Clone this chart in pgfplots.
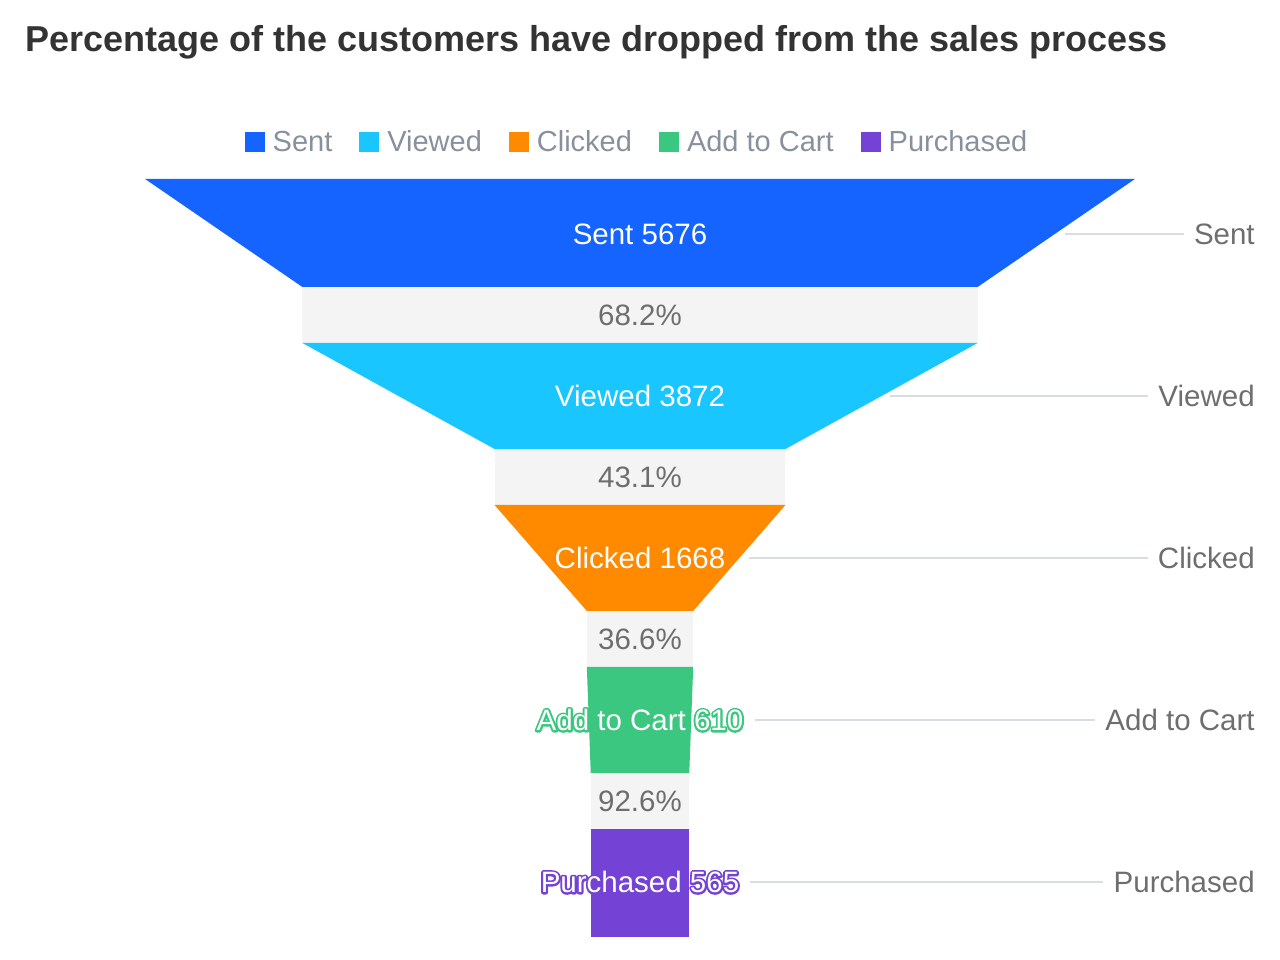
\documentclass[border=0pt]{standalone}
\usepackage{fontspec}
\setmainfont{Liberation Sans}
\usepackage{pgfplots}
\pgfplotsset{compat=1.18}

\definecolor{sentc}{HTML}{1664FF}
\definecolor{viewc}{HTML}{1AC6FF}
\definecolor{clickc}{HTML}{FF8A00}
\definecolor{cartc}{HTML}{3CC780}
\definecolor{buyc}{HTML}{7442D4}
\definecolor{bandgray}{HTML}{F4F4F4}
\definecolor{titlec}{HTML}{333333}
\definecolor{legc}{HTML}{89909D}
\definecolor{labc}{HTML}{6E6E6E}
\definecolor{linec}{HTML}{D9DCE3}

\newcommand{\lbl}{\fontsize{29.5}{34}\selectfont}
% white text with a coloured outline: stroked copy underneath, filled copy on top
\newcommand{\outlined}[3]{%
  \node[text=#2, font=\lbl, inner sep=0pt] at (#1)
    {\special{pdf:literal direct 1 Tr 4 w 1 j}#3\special{pdf:literal direct 0 Tr 1 w}};
  \node[text=white, font=\lbl, inner sep=0pt] at (#1) {#3};}

\begin{document}
\begin{tikzpicture}
\begin{axis}[
  width=1280pt, height=960pt, scale only axis,
  xmin=-3670, xmax=3670, ymin=0, ymax=960, y dir=reverse,
  hide axis, clip=false,
  legend columns=5,
  legend style={at={(axis cs:0,142)}, anchor=center, draw=none, fill=none,
    font=\fontsize{29}{34}\selectfont, text=legc,
    nodes={inner xsep=8pt, inner ysep=0pt},
    /tikz/every even column/.append style={column sep=19pt}},
  legend image code/.code={\fill[#1] (0pt,-10pt) rectangle (20pt,10pt);},
]
\addplot[draw=none, forget plot] coordinates {(-3670,0) (3670,960)};

% conversion bands
\addplot[fill=bandgray, draw=none, forget plot] coordinates {(-1936,287) (1936,287) (1936,343) (-1936,343)} -- cycle;
\addplot[fill=bandgray, draw=none, forget plot] coordinates {(-834,449) (834,449) (834,505) (-834,505)} -- cycle;
\addplot[fill=bandgray, draw=none, forget plot] coordinates {(-305,611) (305,611) (305,667) (-305,667)} -- cycle;
\addplot[fill=bandgray, draw=none, forget plot] coordinates {(-282.5,773) (282.5,773) (282.5,829) (-282.5,829)} -- cycle;

% stages: half of each value on either side
\addplot[fill=sentc, draw=none] coordinates {(-2838,179) (2838,179) (1936,287) (-1936,287)} -- cycle;
\addlegendentry{Sent}
\addplot[fill=viewc, draw=none] coordinates {(-1936,343) (1936,343) (834,449) (-834,449)} -- cycle;
\addlegendentry{Viewed}
\addplot[fill=clickc, draw=none] coordinates {(-834,505) (834,505) (305,611) (-305,611)} -- cycle;
\addlegendentry{Clicked}
\addplot[fill=cartc, draw=none] coordinates {(-305,667) (305,667) (282.5,773) (-282.5,773)} -- cycle;
\addlegendentry{Add to Cart}
\addplot[fill=buyc, draw=none] coordinates {(-282.5,829) (282.5,829) (282.5,937) (-282.5,937)} -- cycle;
\addlegendentry{Purchased}

\node[anchor=base west, text=titlec, font=\fontsize{36}{40}\selectfont\bfseries, inner sep=0pt]
  at (axis cs:-3526,52) {Percentage of the customers have dropped from the sales process};

% conversion rates
\node[text=labc, font=\lbl] at (axis cs:0,315) {68.2\%};
\node[text=labc, font=\lbl] at (axis cs:0,477) {43.1\%};
\node[text=labc, font=\lbl] at (axis cs:0,639) {36.6\%};
\node[text=labc, font=\lbl] at (axis cs:0,801) {92.6\%};

% right-hand labels
\node[anchor=east, text=labc, font=\lbl, inner sep=0pt] (rS) at (axis cs:3526,234) {Sent};
\node[anchor=east, text=labc, font=\lbl, inner sep=0pt] (rV) at (axis cs:3526,396) {Viewed};
\node[anchor=east, text=labc, font=\lbl, inner sep=0pt] (rC) at (axis cs:3526,558) {Clicked};
\node[anchor=east, text=labc, font=\lbl, inner sep=0pt] (rA) at (axis cs:3526,720) {Add to Cart};
\node[anchor=east, text=labc, font=\lbl, inner sep=0pt] (rP) at (axis cs:3526,882) {Purchased};
\draw[linec, line width=1.5pt] (axis cs:2437,234) -- ([xshift=-10pt]rS.west);
\draw[linec, line width=1.5pt] (axis cs:1433,396) -- ([xshift=-10pt]rV.west);
\draw[linec, line width=1.5pt] (axis cs:625,558) -- ([xshift=-10pt]rC.west);
\draw[linec, line width=1.5pt] (axis cs:659,720) -- ([xshift=-10pt]rA.west);
\draw[linec, line width=1.5pt] (axis cs:631,882) -- ([xshift=-10pt]rP.west);

\coordinate (lS) at (axis cs:0,234);
\coordinate (lV) at (axis cs:0,396);
\coordinate (lC) at (axis cs:0,558);
\coordinate (lA) at (axis cs:0,720);
\coordinate (lP) at (axis cs:0,882);
\end{axis}
\outlined{lS}{sentc}{Sent 5676}
\outlined{lV}{viewc}{Viewed 3872}
\outlined{lC}{clickc}{Clicked 1668}
\outlined{lA}{cartc}{Add to Cart 610}
\outlined{lP}{buyc}{Purchased 565}
\end{tikzpicture}
\end{document}
